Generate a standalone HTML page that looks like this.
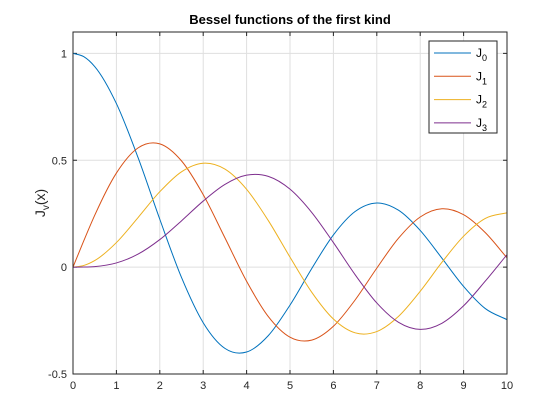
<!DOCTYPE html>
<html><head><meta charset="utf-8"><style>
html,body{margin:0;padding:0;background:#fff;width:560px;height:420px;overflow:hidden}
svg{font-family:"Liberation Sans",Arial,sans-serif}
</style></head><body>
<svg id="chart" width="560" height="420"></svg>
<script>
const xValues=[0,0.25,0.5,1,1.5,2,2.5,3,3.5,4,4.5,5,5.5,6,6.5,7,7.5,8,8.5,9,9.5,10];
const j0Values=[1,0.9844,0.9385,0.7652,0.5118,0.2239,-0.0484,-0.2601,-0.3801,-0.3971,-0.3205,-0.1776,-0.0068,0.1506,0.2601,0.3001,0.2663,0.1717,0.0419,-0.0903,-0.1939,-0.2459];
const j1Values=[0,0.1240,0.2423,0.4401,0.5579,0.5767,0.4971,0.3391,0.1374,-0.0660,-0.2311,-0.3276,-0.3414,-0.2767,-0.1538,-0.0047,0.1352,0.2346,0.2731,0.2453,0.1613,0.0435];
const j2Values=[0,0.0078,0.0306,0.1149,0.2321,0.3528,0.4461,0.4861,0.4586,0.3641,0.2178,0.0466,-0.1173,-0.2429,-0.3074,-0.3014,-0.2303,-0.1130,0.0223,0.1448,0.2279,0.2546];
const j3Values=[0,0.0003,0.0026,0.0196,0.0610,0.1289,0.2166,0.3091,0.3868,0.4302,0.4247,0.3648,0.2561,0.1148,-0.0353,-0.1676,-0.2581,-0.2911,-0.2626,-0.1809,-0.0653,0.0584];
const seriesNames=["0","1","2","3"];
const xTicks=[0,1,2,3,4,5,6,7,8,9,10];
const yTicks=[-0.5,0,0.5,1];
const yTickLabels=["-0.5","0","0.5","1"];

const NS="http://www.w3.org/2000/svg";
const svg=document.getElementById('chart');
const L=73,R=507,T=32,B=374,xMin=0,xMax=10,yMin=-0.5,yMax=1.1;
const sx=v=>L+(v-xMin)/(xMax-xMin)*(R-L);
const sy=v=>B-(v-yMin)/(yMax-yMin)*(B-T);
function mk(tag,attrs,parent){const e=document.createElementNS(NS,tag);for(const k in attrs)e.setAttribute(k,attrs[k]);(parent||svg).appendChild(e);return e;}

const bg=mk('rect',{x:L,y:T,width:R-L,height:B-T,fill:'#fff'});



xTicks.forEach(t=>{
  const g=mk('line',{x1:sx(t),x2:sx(t),y1:T,y2:B,stroke:'#dfdfdf','stroke-width':1});
  
  
  mk('line',{x1:sx(t),x2:sx(t),y1:B,y2:B-4,stroke:'#262626'});
  mk('line',{x1:sx(t),x2:sx(t),y1:T,y2:T+4,stroke:'#262626'});
  const tx=mk('text',{x:sx(t),y:B+15,'text-anchor':'middle','font-size':11,fill:'#262626'});
  tx.textContent=t;
  
  
});
yTicks.forEach((t,i)=>{
  const g=mk('line',{x1:L,x2:R,y1:sy(t),y2:sy(t),stroke:'#dfdfdf','stroke-width':1});
  
  
  mk('line',{x1:L,x2:L+4,y1:sy(t),y2:sy(t),stroke:'#262626'});
  mk('line',{x1:R,x2:R-4,y1:sy(t),y2:sy(t),stroke:'#262626'});
  const tx=mk('text',{x:L-6,y:sy(t)+4,'text-anchor':'end','font-size':11,fill:'#262626'});
  tx.textContent=yTickLabels[i];
  
  
});

const colors=['#0072BD','#D95319','#EDB120','#7E2F8E'];
const series=[j0Values,j1Values,j2Values,j3Values];
function smoothPath(xs,ys){
  const p=xs.map((x,i)=>[sx(x),sy(ys[i])]);
  const n=p.length;
  const tan=i=>{
    if(i===0) return [(p[1][0]-p[0][0]),(p[1][1]-p[0][1])];
    if(i===n-1) return [(p[n-1][0]-p[n-2][0]),(p[n-1][1]-p[n-2][1])];
    // non-uniform spacing: weighted finite difference
    const h0=p[i][0]-p[i-1][0],h1=p[i+1][0]-p[i][0];
    const s0=(p[i][1]-p[i-1][1])/h0,s1=(p[i+1][1]-p[i][1])/h1;
    const m=(s0*h1+s1*h0)/(h0+h1);
    return [1,m];
  };
  let d='M'+p[0][0]+','+p[0][1];
  for(let i=0;i<n-1;i++){
    const h=p[i+1][0]-p[i][0];
    let t1=tan(i),t2=tan(i+1);
    const m1=t1[1]/t1[0],m2=t2[1]/t2[0];
    const c1=[p[i][0]+h/3,p[i][1]+m1*h/3];
    const c2=[p[i+1][0]-h/3,p[i+1][1]-m2*h/3];
    d+=' C'+c1[0]+','+c1[1]+' '+c2[0]+','+c2[1]+' '+p[i+1][0]+','+p[i+1][1];
  }
  return d;
}
const clip=mk('clipPath',{id:'clip'});mk('rect',{x:L,y:T,width:R-L,height:B-T},clip);
series.forEach((s,i)=>{
  const pth=mk('path',{d:smoothPath(xValues,s),fill:'none',stroke:colors[i],'stroke-width':1,'clip-path':'url(#clip)'});
  
  
});

const box=mk('rect',{x:L,y:T,width:R-L,height:B-T,fill:'none',stroke:'#262626','stroke-width':1});



const title=mk('text',{x:(L+R)/2,y:24,'text-anchor':'middle','font-size':13,'font-weight':'bold',fill:'#000'});
title.textContent='Bessel functions of the first kind';



const yl=mk('text',{transform:'translate(45,'+((T+B)/2)+') rotate(-90)','text-anchor':'middle','font-size':14,fill:'#262626'});
yl.innerHTML='J<tspan font-size="10" dy="4">v</tspan><tspan dy="-4">(x)</tspan>';



const leg=mk('g',{});


mk('rect',{x:429,y:41,width:68,height:92,fill:'#fff',stroke:'#262626','stroke-width':1},leg);
seriesNames.forEach((n,i)=>{
  const y=53+i*23.3;
  const ln=mk('line',{x1:434,x2:471,y1:y,y2:y,stroke:colors[i],'stroke-width':1},leg);
  
  
  const t=mk('text',{x:476,y:y+4,'font-size':12,fill:'#000'},leg);
  t.innerHTML='J<tspan font-size="9" dy="4">'+n+'</tspan>';
  
  
});
</script>
</body></html>
